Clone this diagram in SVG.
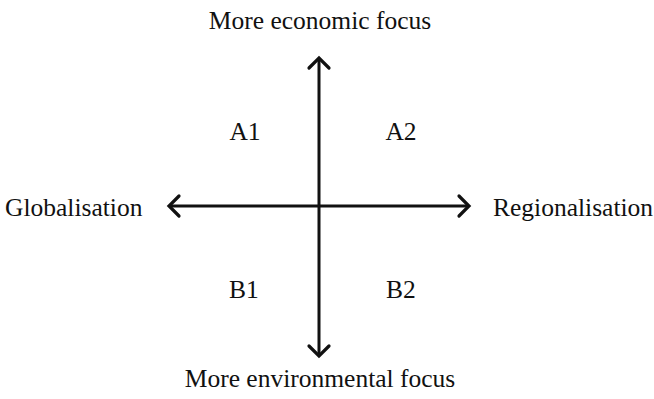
<svg xmlns="http://www.w3.org/2000/svg" width="654" height="399" viewBox="0 0 654 399">
<style>
text{font-family:"Liberation Serif","Times New Roman",serif;font-size:25.5px;fill:#111;text-anchor:middle}
.ax{stroke:#111;stroke-width:3;fill:none}
.hd{stroke:#111;stroke-width:3.2;fill:none;stroke-linecap:round;stroke-linejoin:miter}
</style>
<rect width="654" height="399" fill="#fff"/>
<g id="connectors">
<line class="ax" x1="319" y1="58" x2="319" y2="356"/>
<line class="ax" x1="169" y1="206" x2="469" y2="206"/>
<polyline class="hd" points="309,68 319,58 329,68"/>
<polyline class="hd" points="309,346 319,356 329,346"/>
<polyline class="hd" points="179,196 169,206 179,216"/>
<polyline class="hd" points="459,196 469,206 459,216"/>
</g>
<g id="top"><text x="320" y="29">More economic focus</text></g>
<g id="bottom"><text x="320" y="387">More environmental focus</text></g>
<g id="left"><text x="5" y="216" style="text-anchor:start">Globalisation</text></g>
<g id="right"><text x="493" y="216" style="text-anchor:start">Regionalisation</text></g>
<g id="A1"><text x="245" y="140">A1</text></g>
<g id="A2"><text x="401" y="140">A2</text></g>
<g id="B1"><text x="244" y="298">B1</text></g>
<g id="B2"><text x="401" y="298">B2</text></g>
</svg>
